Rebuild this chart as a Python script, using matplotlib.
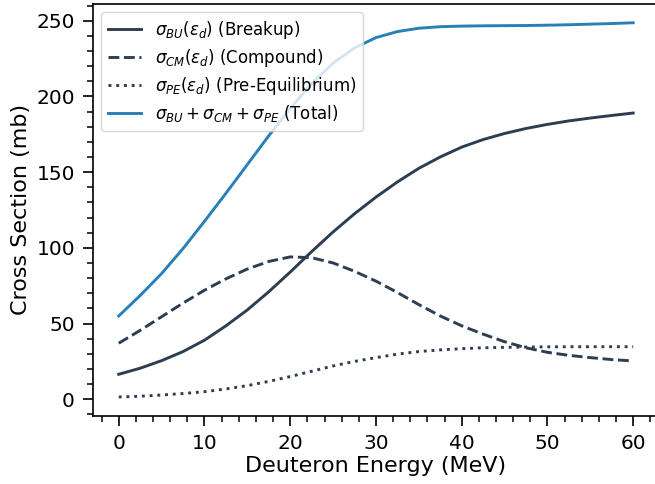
import numpy as np
import matplotlib
matplotlib.use("Agg")
import matplotlib.pyplot as plt
from matplotlib.ticker import MultipleLocator

# deuteron energy grid (MeV)
energy = np.arange(0, 60.1, 2.5)

# cross sections (mb)
sigma_bu = [16.5, 20.5, 25.5, 31.5, 39, 48.5, 59, 71, 84, 97.5, 110.5, 122.5, 133.5,
            143.5, 152.5, 160, 166.5, 171.5, 175.5, 178.8, 181.5, 183.8, 185.7, 187.4, 189]
sigma_cm = [37, 45.5, 54.5, 63.5, 72, 79.5, 86, 91, 94, 93.5, 90, 84.5, 78,
            70.5, 62.5, 55, 48.5, 43, 38, 34, 31, 29, 27.5, 26.2, 25.3]
sigma_pe = [1.5, 2, 2.8, 3.8, 5, 6.8, 9, 11.8, 15, 18.5, 22, 25, 27.5,
            29.8, 31.5, 32.6, 33.4, 34, 34.3, 34.5, 34.6, 34.7, 34.7, 34.7, 34.7]
sigma_tot = [55, 68.5, 83, 99.5, 117.5, 136, 155, 174, 192, 208.5, 222, 232, 238.8,
             242.8, 245, 246, 246.4, 246.6, 246.7, 246.8, 247, 247.3, 247.7, 248.1, 248.6]

dark = "#2c3e50"
blue = "#2980b9"

fig = plt.figure(figsize=(6.55, 4.84), dpi=100)
ax = fig.add_axes([0.142, 0.1411, 0.864, 0.8505])

ax.plot(energy, sigma_bu, color=dark, lw=2.1, ls="-", label=r"$\sigma_{BU}(\varepsilon_d)$ (Breakup)")
ax.plot(energy, sigma_cm, color=dark, lw=2.1, ls="--", label=r"$\sigma_{CM}(\varepsilon_d)$ (Compound)")
ax.plot(energy, sigma_pe, color=dark, lw=2.1, ls=":", label=r"$\sigma_{PE}(\varepsilon_d)$ (Pre-Equilibrium)")
ax.plot(energy, sigma_tot, color=blue, lw=2.1, ls="-", label=r"$\sigma_{BU}+\sigma_{CM}+\sigma_{PE}$ (Total)")

ax.xaxis.set_major_locator(MultipleLocator(10))
ax.xaxis.set_minor_locator(MultipleLocator(2))
ax.yaxis.set_major_locator(MultipleLocator(50))
ax.yaxis.set_minor_locator(MultipleLocator(10))
ax.tick_params(which="major", labelsize=14.5, length=7, width=1.2, pad=6)
ax.tick_params(which="minor", length=4.5, width=1.1)
for sp in ax.spines.values():
    sp.set_linewidth(1.2)

ax.set_xlabel("Deuteron Energy (MeV)", fontsize=16, labelpad=2)
ax.set_ylabel("Cross Section (mb)", fontsize=16, labelpad=4)
ax.legend(loc="upper left", fontsize=12, labelspacing=0.36, borderaxespad=0.5)

fig.savefig("out.png", dpi=100)
